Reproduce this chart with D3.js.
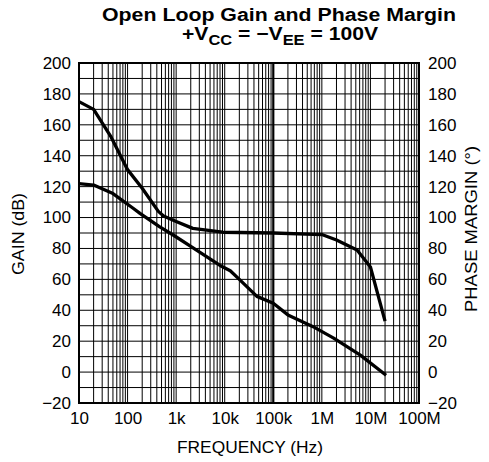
<!DOCTYPE html>
<html>
<head>
<meta charset="utf-8">
<script src="https://cdn.jsdelivr.net/npm/d3@7"></script>
<style>
  html, body { margin: 0; padding: 0; background: #fff; }
  svg { display: block; }
  text { font-family: "Liberation Sans", Arial, sans-serif; fill: #000; }
</style>
</head>
<body>
<svg id="chart" width="489" height="462"></svg>
<script>
// ---- data ----
const gainFreq  = [10, 20, 50, 130, 180, 460, 870, 2000, 8000, 13000, 20000, 46000, 100000, 200000, 660000, 1750000, 6200000, 21000000];
const gainDb    = [122, 121, 115.5, 106, 102.7, 94, 88.7, 81.4, 69, 65.6, 60, 49, 44.5, 37, 29.4, 22, 11, -2];
const phaseFreq = [10, 20, 46, 100, 200, 430, 550, 1000, 2200, 9000, 100000, 1000000, 2000000, 5300000, 10000000, 20000000];
const phaseDeg  = [175, 170, 152, 131, 119, 104, 101, 97.5, 93, 90.5, 90, 89, 85.5, 79, 68, 33];
const xTickValues = [10, 100, 1e3, 1e4, 1e5, 1e6, 1e7, 1e8];
const xTickLabels = ["10", "100", "1k", "10k", "100k", "1M", "10M", "100M"];
const yTickValues = [-20, 0, 20, 40, 60, 80, 100, 120, 140, 160, 180, 200];

// ---- layout ----
const svg = d3.select("#chart");
const L = 79, R = 419, T = 63, B = 403;
const x = d3.scaleLog().domain([10, 1e8]).range([L, R]);
const y = d3.scaleLinear().domain([-20, 200]).range([B, T]);

// grid
const grid = svg.append("g");
const minorX = [];
for (let d = 10; d < 1e8; d *= 10) for (let k = 1; k <= 9; k++) minorX.push(d * k);
grid.selectAll("line.vx").data(minorX).enter().append("line")
  .attr("x1", d => x(d)).attr("x2", d => x(d)).attr("y1", T).attr("y2", B)
  .attr("stroke", "#000").attr("stroke-width", d => d === 1e5 ? 2.2 : 1);
grid.selectAll("line.hy").data(d3.range(-20, 201, 10)).enter().append("line")
  .attr("x1", L).attr("x2", R).attr("y1", d => y(d)).attr("y2", d => y(d))
  .attr("stroke", "#000").attr("stroke-width", 1);
svg.append("rect").attr("x", L).attr("y", T).attr("width", R - L).attr("height", B - T)
  .attr("fill", "none").attr("stroke", "#000").attr("stroke-width", 2);

// curves
const line = d3.line().x(d => x(d[0])).y(d => y(d[1]));
svg.append("path").datum(phaseFreq.map((f, i) => [f, phaseDeg[i]]))
  .attr("d", line).attr("fill", "none").attr("stroke", "#000")
  .attr("stroke-width", 3.3).attr("stroke-linejoin", "round").attr("stroke-linecap", "butt");
svg.append("path").datum(gainFreq.map((f, i) => [f, gainDb[i]]))
  .attr("d", line).attr("fill", "none").attr("stroke", "#000")
  .attr("stroke-width", 3.3).attr("stroke-linejoin", "round").attr("stroke-linecap", "butt");

// axes (labels only, using d3 axes)
const fs = 17;
const leftAxis = svg.append("g").attr("transform", `translate(${L},0)`)
  .call(d3.axisLeft(y).tickValues(yTickValues).tickSize(0).tickPadding(8).tickFormat(d3.format("d")));
const rightAxis = svg.append("g").attr("transform", `translate(${R},0)`)
  .call(d3.axisRight(y).tickValues(yTickValues).tickSize(0).tickPadding(9).tickFormat(d3.format("d")));
const bottomAxis = svg.append("g").attr("transform", `translate(0,${B})`)
  .call(d3.axisBottom(x).tickValues(xTickValues).tickSize(0).tickPadding(9)
    .tickFormat((d, i) => xTickLabels[i]));
[leftAxis, rightAxis, bottomAxis].forEach(g => {
  g.select(".domain").remove();
  g.selectAll("text").attr("font-family", "Liberation Sans, Arial, sans-serif")
    .attr("font-size", fs).attr("fill", "#000");
});

// axis titles
svg.append("text").attr("x", 250).attr("y", 453).attr("text-anchor", "middle")
  .attr("font-size", 17).attr("textLength", 146).attr("lengthAdjust", "spacingAndGlyphs")
  .text("FREQUENCY (Hz)");
svg.append("text").attr("transform", "translate(24,234) rotate(-90)").attr("text-anchor", "middle")
  .attr("font-size", 17).attr("textLength", 82).attr("lengthAdjust", "spacingAndGlyphs")
  .text("GAIN (dB)");
svg.append("text").attr("transform", "translate(477,229) rotate(-90)").attr("text-anchor", "middle")
  .attr("font-size", 17).attr("textLength", 166).attr("lengthAdjust", "spacingAndGlyphs")
  .text("PHASE MARGIN (°)");

// chart title
svg.append("text").attr("x", 279).attr("y", 21).attr("text-anchor", "middle")
  .attr("font-size", 18).attr("font-weight", "bold")
  .attr("textLength", 354).attr("lengthAdjust", "spacingAndGlyphs")
  .text("Open Loop Gain and Phase Margin");
const t2 = svg.append("text").attr("x", 280).attr("y", 40).attr("text-anchor", "middle")
  .attr("font-size", 18).attr("font-weight", "bold")
  .attr("textLength", 196).attr("lengthAdjust", "spacingAndGlyphs");
t2.append("tspan").text("+V");
t2.append("tspan").attr("font-size", 14).attr("dy", 5).text("CC");
t2.append("tspan").attr("dy", -5).text(" = \u2212V");
t2.append("tspan").attr("font-size", 14).attr("dy", 5).text("EE");
t2.append("tspan").attr("dy", -5).text(" = 100V");
</script>
</body>
</html>
